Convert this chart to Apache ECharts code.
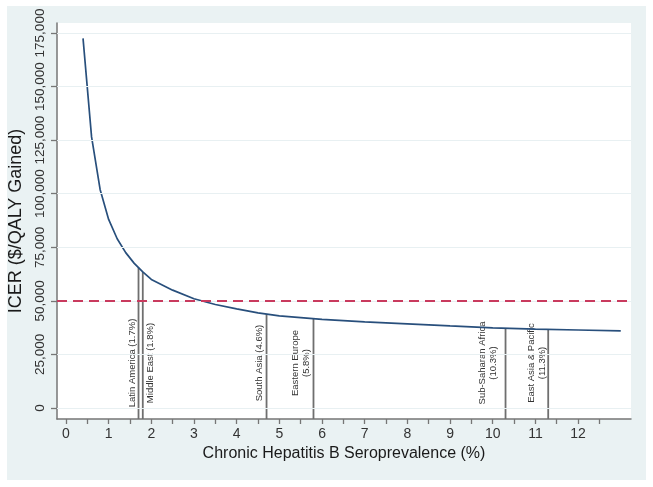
<!DOCTYPE html>
<html><head><meta charset="utf-8">
<script src="https://cdn.jsdelivr.net/npm/echarts@6/dist/echarts.min.js"></script>
<style>html,body{margin:0;padding:0;background:#fff}#c{width:653px;height:487px}</style>
</head><body><div id="c"></div>
<script>
// ---- data ----
const curveX = [0.4, 0.6, 0.8, 1.0, 1.2, 1.4, 1.6, 1.8, 2.0, 2.5, 3.0, 3.5, 4.0, 4.5, 5.0, 6.0, 7.0, 8.0, 9.0, 10.0, 11.0, 12.0, 13.0];
const curveY = [172500, 126500, 102000, 88000, 79000, 72500, 67500, 63500, 60000, 55000, 51000, 48300, 46300, 44400, 43000, 41400, 40200, 39300, 38300, 37400, 36800, 36400, 36000];
const xTicks = [0,1,2,3,4,5,6,7,8,9,10,11,12];
const xMinorTicks = [0.5,1.5,2.5,3.5,4.5,5.5,6.5,7.5,8.5,9.5,10.5,11.5,12.5];
const yTicks = [0,25000,50000,75000,100000,125000,150000,175000];
const threshold = 50000;
const regionNames = ['Latin America (1.7%)', 'Middle East (1.8%)', 'South Asia (4.6%)', 'Eastern Europe\n(5.8%)', 'Sub-Saharan Africa\n(10.3%)', 'East Asia & Pacific\n(11.3%)'];
const regionPrev = [1.7, 1.8, 4.7, 5.8, 10.3, 11.3];
const regionICER = [65500, 63500, 43800, 41700, 37200, 36700];
const labelY = 21000;

// ---- layout / style ----
const FONT = '"Liberation Sans", Arial, Helvetica, sans-serif';
const X_MIN = -0.21, X_MAX = 13.24, Y_MIN = -5130, Y_MAX = 179670;
const labelDx = [-6, 7.7, -6.7, -13, -18, -11.5];
const AX = '#767676';
const fmt = v => String(v).replace(/\B(?=(\d{3})+(?!\d))/g, ',');

const chart = echarts.init(document.getElementById('c'), null, {renderer: 'canvas'});
chart.setOption({
  animation: false,
  backgroundColor: '#ffffff',
  graphic: [{type: 'rect', z: -10, silent: true, shape: {x: 7, y: 6, width: 639, height: 474}, style: {fill: '#eaf2f3'}}],
  grid: {left: 57, right: 22, top: 23, bottom: 68, show: true, backgroundColor: '#ffffff', borderWidth: 0, outerBoundsMode: 'none', containLabel: false},
  xAxis: {type: 'value', min: X_MIN, max: X_MAX, position: 'bottom',
     name: 'Chronic Hepatitis B Seroprevalence (%)', nameLocation: 'middle', nameGap: 21,
     nameTextStyle: {fontFamily: FONT, fontSize: 16, color: '#1a1a1a'},
     axisLine: {show: true, onZero: false, lineStyle: {color: AX, width: 1.5}},
     axisTick: {show: true, customValues: xTicks.concat(xMinorTicks), length: 5, lineStyle: {color: AX, width: 1.3}},
     axisLabel: {customValues: xTicks, margin: 8, fontFamily: FONT, fontSize: 14, color: '#333'},
     splitLine: {show: false}},
  yAxis: {type: 'value', min: Y_MIN, max: Y_MAX,
     name: 'ICER ($/QALY Gained)', nameLocation: 'middle', nameGap: 30,
     nameTextStyle: {fontFamily: FONT, fontSize: 18, color: '#1a1a1a'},
     axisLine: {show: true, onZero: false, lineStyle: {color: AX, width: 1.5}},
     axisTick: {show: true, customValues: yTicks, length: 6, lineStyle: {color: AX, width: 1.3}},
     axisLabel: {customValues: yTicks, rotate: 90, margin: 10, formatter: v => fmt(v), fontFamily: FONT, fontSize: 13.5, color: '#333'},
     splitLine: {show: false}},
  series: [
    {type: 'line', data: [], silent: true, z: 1,
     markLine: {silent: true, symbol: 'none', animation: false, label: {show: false},
       lineStyle: {type: 'solid', color: '#e8f0f2', width: 1},
       data: yTicks.map(v => ({yAxis: v}))}},
    {type: 'custom', silent: true, z: 3, clip: false,
     data: regionPrev.map((x, i) => [x, regionICER[i], i]),
     encode: {x: 0, y: 1},
     renderItem: (params, api) => {
       const x = api.value(0), top = api.value(1), i = api.value(2);
       const p0 = api.coord([x, Y_MIN]), p1 = api.coord([x, top]), pl = api.coord([x, labelY]);
       return {type: 'group', children: [
         {type: 'line', shape: {x1: p0[0], y1: p0[1], x2: p1[0], y2: p1[1]}, style: {stroke: '#6f6f6f', lineWidth: 1.8}},
         {type: 'text', x: pl[0] + labelDx[i], y: pl[1], rotation: Math.PI / 2,
          style: {text: regionNames[i], fontFamily: FONT, fontSize: 9.5, fill: '#333', align: 'center', verticalAlign: 'middle', lineHeight: 11}}
       ]};
     }},
    {type: 'line', silent: true, z: 4,
     data: curveX.map((x, i) => [x, curveY[i]]),
     showSymbol: false, symbol: 'none', smooth: false,
     lineStyle: {color: '#284f7c', width: 1.7},
     markLine: {silent: true, symbol: 'none', animation: false, label: {show: false},
       lineStyle: {type: [10, 6], color: '#c93a5e', width: 2},
       data: [{yAxis: threshold}]}}
  ]
});
</script>
</body></html>
